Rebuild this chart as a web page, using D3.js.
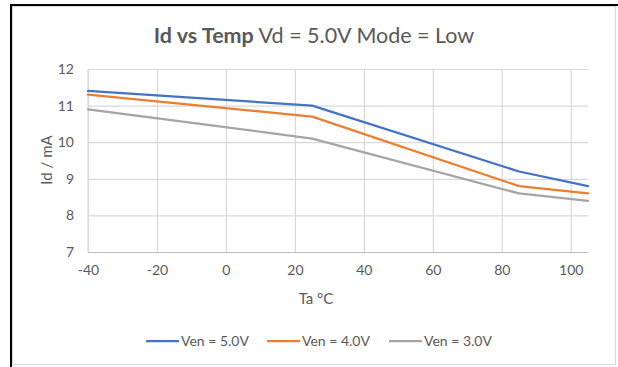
<!DOCTYPE html>
<html>
<head>
<meta charset="utf-8">
<script src="https://cdn.jsdelivr.net/npm/d3@7"></script>
<style>
  html, body { margin: 0; padding: 0; background: #fff; }
  svg { display: block; }
  text { font-family: Lato, "Open Sans", sans-serif; fill: #595959; }
</style>
</head>
<body>
<svg id="chart" width="618" height="367"></svg>
<script>
// Temperature points (°C)
const temps = [-40, 25, 85, 105];
// Drain current (mA) per enable voltage
const ven50 = [11.4, 11.0, 9.2, 8.8];
const ven40 = [11.3, 10.7, 8.8, 8.6];
const ven30 = [10.9, 10.1, 8.6, 8.4];
const seriesNames = ["Ven = 5.0V", "Ven = 4.0V", "Ven = 3.0V"];
const seriesColors = ["#4472C4", "#ED7D31", "#A5A5A5"];
const xTicks = [-40, -20, 0, 20, 40, 60, 80, 100];
const yTicks = [7, 8, 9, 10, 11, 12];

const series = [ven50, ven40, ven30];

const svg = d3.select("#chart");
const W = 618, H = 367;
const fmt = d => String(d); // plain hyphen for negatives

// outer frame
svg.append("rect").attr("x", 12.5).attr("y", 6.5).attr("width", 603).attr("height", 358)
  .attr("fill", "#fff").attr("stroke", "#d9d9d9").attr("stroke-width", 1);
svg.append("path").attr("d", `M11,${H} L11,5 L${W},5`)
  .attr("fill", "none").attr("stroke", "#000").attr("stroke-width", 2);

const plot = { left: 88, right: 588, top: 69, bottom: 252 };

const x = d3.scaleLinear().domain([-40, 105]).range([plot.left, plot.right]);
const y = d3.scaleLinear().domain([7, 12]).range([plot.bottom, plot.top]);

// horizontal gridlines
svg.append("g")
  .attr("transform", `translate(${plot.left},0)`)
  .call(d3.axisLeft(y).tickValues(yTicks).tickSize(-(plot.right - plot.left)).tickFormat(""))
  .call(g => g.select(".domain").remove())
  .call(g => g.selectAll("line").attr("stroke", "#d9d9d9").attr("stroke-width", 1.2));

// vertical gridlines
svg.append("g")
  .attr("transform", `translate(0,${plot.bottom})`)
  .call(d3.axisBottom(x).tickValues(xTicks).tickSize(-(plot.bottom - plot.top)).tickFormat(""))
  .call(g => g.select(".domain").remove())
  .call(g => g.selectAll("line").attr("stroke", "#d9d9d9").attr("stroke-width", 1.2));

// left axis line
svg.append("line").attr("x1", plot.left).attr("x2", plot.left)
  .attr("y1", plot.top).attr("y2", plot.bottom)
  .attr("stroke", "#d9d9d9").attr("stroke-width", 1.2);

// bottom axis with labels
svg.append("g")
  .attr("transform", `translate(0,${plot.bottom})`)
  .call(d3.axisBottom(x).tickValues(xTicks).tickSize(0).tickPadding(13).tickFormat(fmt))
  .call(g => g.select(".domain").attr("stroke", "#bfbfbf").attr("stroke-width", 1.2))
  .call(g => g.selectAll("text").attr("font-size", 14).attr("fill", "#595959")
    .attr("font-family", "Lato, 'Open Sans', sans-serif"));

// left tick labels
svg.append("g")
  .attr("transform", `translate(${plot.left},0)`)
  .call(d3.axisLeft(y).tickValues(yTicks).tickSize(0).tickPadding(14).tickFormat(fmt))
  .call(g => g.select(".domain").remove())
  .call(g => g.selectAll("text").attr("font-size", 14).attr("fill", "#595959")
    .attr("font-family", "Lato, 'Open Sans', sans-serif"));

// series lines
const line = d3.line().x((d, i) => x(temps[i])).y(d => y(d));
series.forEach((s, k) => {
  svg.append("path").datum(s).attr("d", line)
    .attr("fill", "none").attr("stroke", seriesColors[k])
    .attr("stroke-width", 2.25).attr("stroke-linejoin", "round").attr("stroke-linecap", "round");
});

// title
const title = svg.append("text").attr("x", 314).attr("y", 43).attr("text-anchor", "middle")
  .attr("font-size", 21.5);
title.append("tspan").attr("font-weight", "bold").text("Id vs Temp");
title.append("tspan").text(" Vd = 5.0V Mode = Low");

// axis titles
svg.append("text").attr("x", 316).attr("y", 304).attr("text-anchor", "middle")
  .attr("font-size", 15).text("Ta °C");
svg.append("text").attr("transform", "translate(52,160) rotate(-90)").attr("text-anchor", "middle")
  .attr("font-size", 15).text("Id / mA");

// legend
const legendX = [146, 267, 389];
seriesNames.forEach((n, k) => {
  const g = svg.append("g").attr("transform", `translate(${legendX[k]},341)`);
  g.append("line").attr("x1", 0).attr("x2", 33).attr("y1", 0).attr("y2", 0)
    .attr("stroke", seriesColors[k]).attr("stroke-width", 2.25);
  g.append("text").attr("x", 35).attr("y", 5).attr("font-size", 14).text(n);
});
</script>
</body>
</html>
